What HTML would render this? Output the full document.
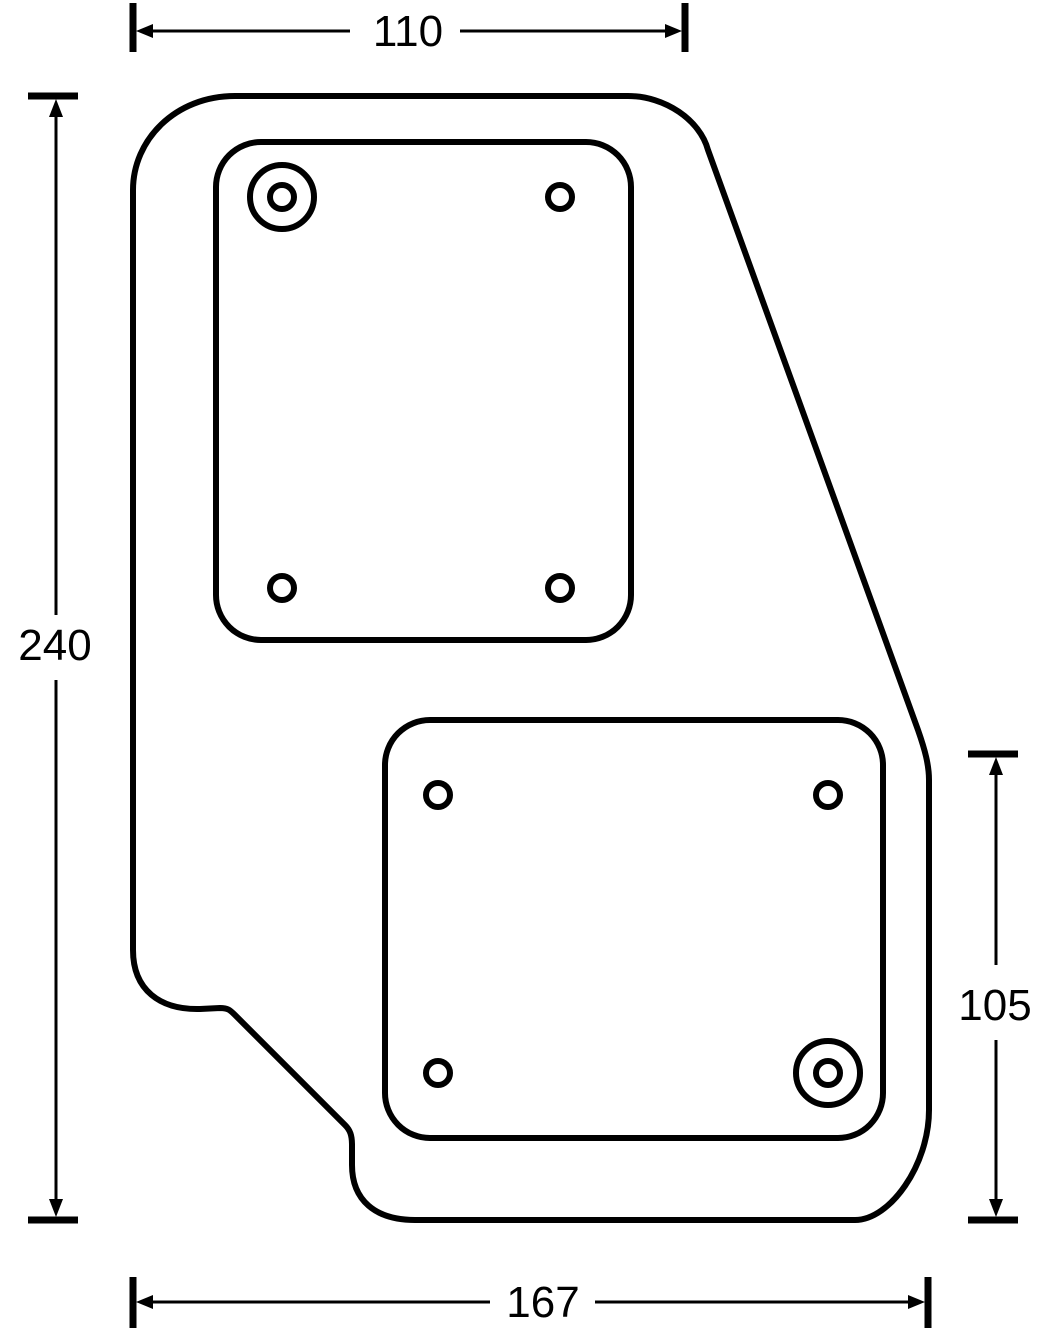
<!DOCTYPE html>
<html><head><style>html,body{margin:0;padding:0;background:#fff}svg{display:block}</style></head>
<body>
<svg width="1051" height="1334" viewBox="0 0 1051 1334" xmlns="http://www.w3.org/2000/svg">
<g fill="none" stroke="#000" stroke-width="6" stroke-linejoin="round">
<path d="M133,950 L133,190 C133,140 175,96 235,96 L628,96 C665,96 700,120 708,150 L918,730 C925,750 929,765 929,780 L929,1110 C929,1165 890,1220 855,1220 L415,1220 C375,1220 352,1200 352,1165 L352,1145 C352,1135 350,1130 345,1125 L235,1015 C230,1010 228,1008 220,1008 L200,1009 C160,1010 133,990 133,950 Z"/>
<rect x="216" y="142" width="415" height="498" rx="45"/>
<rect x="385" y="720" width="498" height="418" rx="45"/>
<circle cx="282" cy="197" r="32"/><circle cx="282" cy="197" r="12"/>
<circle cx="560" cy="197" r="12"/><circle cx="282" cy="588" r="12"/><circle cx="560" cy="588" r="12"/>
<circle cx="438" cy="795" r="12"/><circle cx="828" cy="795" r="12"/><circle cx="438" cy="1073" r="12"/>
<circle cx="828" cy="1073" r="32"/><circle cx="828" cy="1073" r="12"/>
</g>
<g stroke="#000" fill="none">
<line x1="133" y1="3" x2="133" y2="52" stroke-width="7"/>
<line x1="685" y1="3" x2="685" y2="52" stroke-width="7"/>
<line x1="140" y1="31" x2="350" y2="31" stroke-width="3"/>
<line x1="460" y1="31" x2="678" y2="31" stroke-width="3"/>
<line x1="28" y1="96" x2="78" y2="96" stroke-width="7"/>
<line x1="28" y1="1220" x2="78" y2="1220" stroke-width="7"/>
<line x1="56" y1="103" x2="56" y2="615" stroke-width="3"/>
<line x1="56" y1="680" x2="56" y2="1213" stroke-width="3"/>
<line x1="968" y1="754" x2="1018" y2="754" stroke-width="7"/>
<line x1="968" y1="1220" x2="1018" y2="1220" stroke-width="7"/>
<line x1="996" y1="761" x2="996" y2="965" stroke-width="3"/>
<line x1="996" y1="1040" x2="996" y2="1213" stroke-width="3"/>
<line x1="133" y1="1277" x2="133" y2="1328" stroke-width="7"/>
<line x1="928" y1="1277" x2="928" y2="1328" stroke-width="7"/>
<line x1="140" y1="1302" x2="490" y2="1302" stroke-width="3"/>
<line x1="595" y1="1302" x2="921" y2="1302" stroke-width="3"/>
</g>
<g fill="#000">
<polygon points="136,31 153,24 153,38"/>
<polygon points="682,31 665,24 665,38"/>
<polygon points="56,99 49,117 63,117"/>
<polygon points="56,1217 49,1199 63,1199"/>
<polygon points="996,757 989,775 1003,775"/>
<polygon points="996,1217 989,1199 1003,1199"/>
<polygon points="136,1302 153,1295 153,1309"/>
<polygon points="925,1302 908,1295 908,1309"/>
</g>
<g font-family="Liberation Sans, sans-serif" font-size="44" fill="#000" text-anchor="middle">
<text x="408" y="46">110</text>
<text x="55" y="660">240</text>
<text x="995" y="1020">105</text>
<text x="543" y="1317">167</text>
</g>
</svg>
</body></html>
